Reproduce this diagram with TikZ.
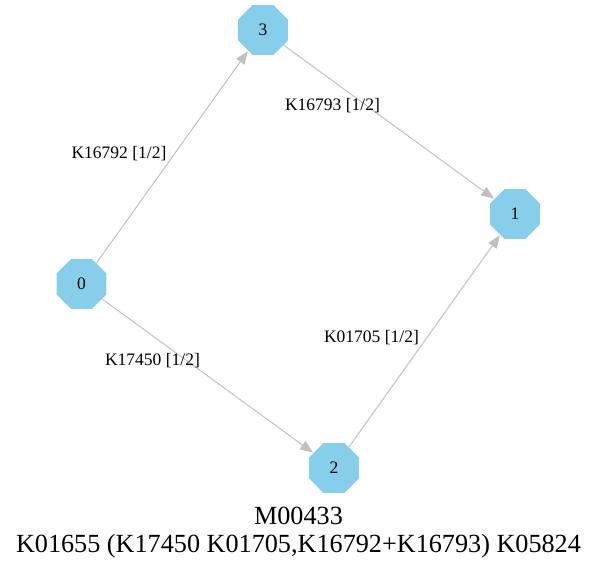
\documentclass[tikz,border=0pt]{standalone}
\usepackage{fontspec}
\setmainfont{Liberation Serif}
\usetikzlibrary{shapes.geometric,arrows.meta}
\definecolor{nodeblue}{HTML}{87CEEB}
\definecolor{edgegray}{HTML}{C0C0C0}
\tikzset{
  octnode/.style={regular polygon, regular polygon sides=8, minimum size=54pt,
    fill=nodeblue, draw=none, inner sep=0pt, font=\fontsize{17.5}{21}\selectfont},
  edgeline/.style={draw=edgegray, line width=1pt,
    -{Triangle[length=13pt,width=10pt,fill=edgegray]}, shorten >=0.5pt},
  elabel/.style={font=\fontsize{17.5}{21}\selectfont, inner sep=0pt},
  titletext/.style={font=\fontsize{26.2}{30}\selectfont, inner sep=0pt, align=center}
}
\begin{document}
\begin{tikzpicture}[x=1pt,y=-1pt]
\useasboundingbox (0,0) rectangle (597,569);
\node[octnode] (n0) at (81.5,284) {0};
\node[octnode] (n3) at (263,30) {3};
\node[octnode] (n1) at (515,214) {1};
\node[octnode] (n2) at (334,468) {2};
\draw[edgeline] (n0) -- (n3);
\draw[edgeline] (n3) -- (n1);
\draw[edgeline] (n0) -- (n2);
\draw[edgeline] (n2) -- (n1);
\node[elabel] (l03) at (119,154) {K16792 [1/2]};
\node[elabel] (l31) at (332.5,106) {K16793 [1/2]};
\node[elabel] (l02) at (152.5,361) {K17450 [1/2]};
\node[elabel] (l21) at (371.5,338) {K01705 [1/2]};
\node[titletext] (t1) at (298.5,516) {M00433};
\node[titletext] (t2) at (298.5,546) {K01655 (K17450 K01705,K16792+K16793) K05824};
\end{tikzpicture}
\end{document}
